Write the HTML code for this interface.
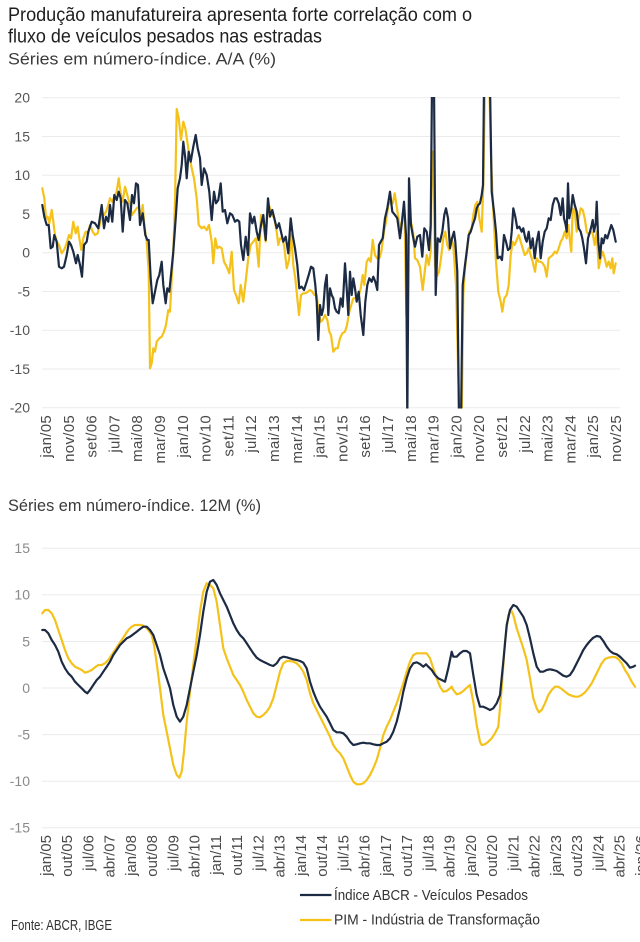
<!DOCTYPE html>
<html><head><meta charset="utf-8"><style>
html,body{margin:0;padding:0;background:#fff;}
svg{display:block;}
text{font-family:"Liberation Sans",sans-serif;}
</style></head><body>
<svg width="640" height="942" viewBox="0 0 640 942" xmlns="http://www.w3.org/2000/svg">
<rect width="640" height="942" fill="#fff"/>
<defs>
<clipPath id="ct"><rect x="38" y="97" width="586" height="311.5"/></clipPath>
</defs>
<!-- titles -->
<text x="8" y="21" font-size="19" fill="#1e1e1e" textLength="464" lengthAdjust="spacingAndGlyphs">Produção manufatureira apresenta forte correlação com o</text>
<text x="8" y="42.5" font-size="19" fill="#1e1e1e" textLength="314" lengthAdjust="spacingAndGlyphs">fluxo de veículos pesados nas estradas</text>
<text x="8" y="64.5" font-size="17" fill="#3a3a3a" textLength="268" lengthAdjust="spacingAndGlyphs">Séries em número-índice. A/A (%)</text>
<text x="8" y="511" font-size="17" fill="#3a3a3a" textLength="253" lengthAdjust="spacingAndGlyphs">Séries em número-índice. 12M (%)</text>

<!-- top grid -->
<g stroke="#ebebeb" stroke-width="1">
<line x1="42" y1="97.7" x2="620" y2="97.7"/><line x1="42" y1="136.5" x2="620" y2="136.5"/><line x1="42" y1="175.2" x2="620" y2="175.2"/><line x1="42" y1="214" x2="620" y2="214"/><line x1="42" y1="252.7" x2="620" y2="252.7"/><line x1="42" y1="291.5" x2="620" y2="291.5"/><line x1="42" y1="330.2" x2="620" y2="330.2"/><line x1="42" y1="369" x2="620" y2="369"/><line x1="42" y1="407.7" x2="620" y2="407.7"/>
</g>
<g font-size="14" fill="#555" text-anchor="end">
<text x="30" y="102.5">20</text><text x="30" y="141.3">15</text><text x="30" y="180">10</text><text x="30" y="218.8">5</text><text x="30" y="257.5">0</text><text x="30" y="296.3">-5</text><text x="30" y="335">-10</text><text x="30" y="373.8">-15</text><text x="30" y="412.5">-20</text>
</g>

<!-- bottom grid -->
<g stroke="#ebebeb" stroke-width="1">
<line x1="42" y1="548.3" x2="640" y2="548.3"/><line x1="42" y1="594.9" x2="640" y2="594.9"/><line x1="42" y1="641.5" x2="640" y2="641.5"/><line x1="42" y1="688" x2="640" y2="688"/><line x1="42" y1="734.6" x2="640" y2="734.6"/><line x1="42" y1="781.2" x2="640" y2="781.2"/><line x1="42" y1="827.7" x2="640" y2="827.7"/>
</g>
<g font-size="14" fill="#8a8a8a" text-anchor="end">
<text x="30" y="553.1">15</text><text x="30" y="599.7">10</text><text x="30" y="646.3">5</text><text x="30" y="692.8">0</text><text x="30" y="739.4">-5</text><text x="30" y="786">-10</text><text x="30" y="832.5">-15</text>
</g>

<!-- top series -->
<g clip-path="url(#ct)" fill="none" stroke-width="2.2" stroke-linejoin="round" stroke-linecap="round">
<polyline stroke="#f5c21b" points="42.3,188.3 44.3,198.3 46,218.3 47.7,216.7 49.3,223.3 51.7,210 53.3,221.7 55,235 56.7,241.7 59,245 61.7,253.3 64,250 66.7,243.3 69,235 71,238.3 73.3,221.7 75.7,233.3 77.7,226.7 79.3,238.3 81.3,250 83.3,238.3 85.7,231.7 88.3,233.3 90,225 92.7,231.7 95,235 97.7,233.3 100,223.3 101.7,213.3 104,215 106,211.7 108.3,205 110,198.3 112.3,201.7 114.3,196.7 116.7,191.7 118.7,178.3 120.7,193.3 122.7,201.7 125,186.7 127.3,195 130,205 132,215 134.3,211.7 136.7,208.3 138.7,206.7 140.7,216.7 142.7,205 144.3,225 146.7,241.7 148.7,271.7 150,368.3 151.7,363.3 153.3,348.3 155,351.7 156.7,341.7 159.3,338.3 161.7,336.7 164,331.7 166,325 168.3,310 170,311.7 171.7,278.3 173.3,251.7 175,201.7 176.7,109 178.7,118.3 181,140 183.3,121.7 185.3,128.3 187.3,141.7 189.3,155 191.7,168.3 194,178.3 196.7,198.3 198.7,225 201.7,228.3 204,226.7 206.7,230 209,225 211.7,241.7 213.3,263.3 215.3,238.3 217.3,248.3 219.3,246.7 221.7,248.3 224,261.7 226.7,266.7 229.3,273.3 231.7,251.7 234,290 236,295 238.7,303.3 240.7,285 243.3,301.7 246,278.3 248.3,258.3 250.7,245 253.3,241.7 256,238.3 258.7,266.7 261,215 263.3,225 265.7,241.7 268,203.3 270,208.3 272.3,215 274.3,218.3 276.7,231.7 278.3,245 280,238.3 282.3,238.3 284.3,246.7 286.7,268.3 289,260 291.3,235 293.3,265 295.3,278.3 297.3,298.3 299,315 301,295 303.3,293.3 305.3,293.3 307.7,291.7 310,290 312.3,291.7 314.3,295 316.7,295 318.7,313.3 320.7,321.7 322.7,320 325,315 327.3,320 329.3,331.7 331,335 333.3,351.7 335.7,348.3 337.7,348.3 340,338.3 342.3,333.3 345,331.7 347,325 349.3,311.7 351.3,305 353.3,298.3 355.7,298.3 358,298.3 360.7,288.3 362.7,275 364.3,285 366.7,261.7 368.7,258.3 370.7,261.7 372.7,240 375,255 377,258.3 379.3,258.3 381.3,251.7 384,231.7 386,221.7 388.3,205 390.7,201.7 392.7,203.3 394.7,193.3 396.7,206.7 399,221.7 401,230 402.7,213.3 404.7,218.3 406.3,315 408,245 409.3,218.3 410,220 411.7,225 413.3,233.3 415,258.3 417.3,260 420,266.7 422.7,290 424.7,271.7 426.7,255 428.7,265 430.7,251.7 432,151.7 433.3,151.7 435,265 436.7,276.7 439,271.7 441,258.3 443.3,238.3 445.3,231.7 447.3,245 449.3,250 451.3,238.3 453.3,245 456,285 457.7,351.7 459.3,420 461.7,420 463.3,295 465,268.3 467.3,248.3 469.3,231.7 471.7,228.3 473.3,215 475.3,205 477.3,201.7 479.3,218.3 481.7,231.7 483.3,185 485,85 489.3,85 491,158.3 493.3,211.7 496,261.7 498.3,291.7 500.7,301.7 502.3,311.7 504.3,298.3 506.7,295 508.7,285 510.7,255 512.7,241.7 514.7,245 516.7,240 518.7,235 520.7,241.7 522.7,248.3 524.7,255 526.7,253.3 528.7,248.3 530.7,255 532.7,261.7 535,271.7 536.7,258.3 538.7,261.7 540.7,261.7 542.7,263.3 544.7,266.7 546.7,276.7 548.7,258.3 550.7,256.7 552.7,255 554.7,251.7 556.7,253.3 558.7,248.3 560.7,241.7 562.7,238.3 564.7,231.7 566.7,238.3 568.3,225 570,241.7 571.3,251.7 572.7,208.3 574.7,211.7 576.7,231.7 578.7,218.3 580.7,208.3 582.7,210 584.7,218.3 586.7,231.7 588.7,235 590.7,231.7 592.7,233.3 594.7,245 596.7,231.7 598.7,268.3 600.7,258.3 602.7,251.7 604.7,258.3 606.7,266.7 608.7,261.7 610.7,268.3 612.3,258.3 613.7,273.3 615.7,263.3"/>
<polyline stroke="#1c2b43" points="42.3,205 44.3,216.7 46.7,225 48.7,225 50.7,248.3 52.7,246.7 54.3,235 56.7,241.7 59,266.7 61.7,268.3 64,266.7 66.7,255 69,241.7 71,245 73.3,251.7 76,263.3 77.7,255 80,265 82,276.7 84,245 86.7,241.7 88.3,231.7 91.7,221.7 95,223.3 98.3,228.3 101.7,205 104,228.3 106,216.7 108.3,221.7 110,205 112.3,221.7 114.3,195 116.7,200 118.7,191.7 120.7,198.3 122.7,231.7 125,200 127.3,203.3 130,220 132,195 134,203.3 136,183.3 138,185 140,225 142.7,213.3 145.3,235 147.3,240 148.7,240 150.7,278.3 152.7,303.3 155,291.7 157.3,280 159.3,275 161.7,261.7 163.3,285 165.7,303.3 167.3,288.3 169.3,291.7 171,275 173.3,251.7 175.7,218.3 177.7,188.3 180,178.3 181.7,165 183.3,141.7 185.3,158.3 186.7,178.3 188.7,151.7 190.7,161.7 193.3,146.7 195.7,135 197.7,148.3 200,158.3 201.7,185 204,168.3 206.7,175 209.3,191.7 211.7,220 214,191.7 216,203.3 218.3,200 220.7,183.3 222.7,211.7 225,210 227.3,223.3 230,213.3 232.3,215 235,221.7 237.3,220 239.3,221.7 241,245 243.3,260 245.7,236.7 248,255 250,213.3 252.3,223.3 254.3,216.7 256.7,231.7 258.7,240 261,225 263.3,215 265.7,240 268,198.3 270,216.7 272.3,210 274.3,218.3 276.7,228.3 279,223.3 281,231.7 283.3,241.7 285.7,236.7 288.3,253.3 290.7,218.3 292.7,235 295,248.3 297.3,265 299.3,288.3 301.7,286.7 304,290 306.7,281.7 308.7,275 311,266.7 313.3,268.3 315.3,285 316.7,301.7 318.3,340 320,305 321.7,315 323.3,308.3 325,285 326.7,275 328.3,315 330,288.3 331.7,295 333.3,298.3 335,308.3 336.7,311.7 338.7,313.3 340.7,298.3 342.7,306.7 345,263.3 346.7,288.3 348.3,315 350,271.7 351.7,295 353.3,278.3 355,288.3 356.7,301.7 358.7,291.7 360.7,315 363.3,335 365.3,301.7 367.3,285 369.3,278.3 371.7,281.7 373.3,276.7 375.3,281.7 377.3,290 379,245 380.7,241.7 382.7,238.3 385,218.3 387.3,208.3 390,191.7 392.3,211.7 395,215 397.3,218.3 400,238.3 402,221.7 404,201.7 406,235 407.3,420 409,178.3 411,225 412.7,235 415,246.7 417.3,236.7 420,235 422.3,256.7 424.3,228.3 426.7,231.7 429,250 430.7,225 432,85 434,85 435.7,295 437.7,238.3 440,241.7 442.3,231.7 444.3,215 446,208.3 448,218.3 450,248.3 452,238.3 454,231.7 455.3,241.7 457.3,271.7 459,420 461,420 462.7,285 465,265 466.7,251.7 468.7,235 470.7,231.7 472.7,225 475,218.3 476.7,208.3 478.3,205 480,203.3 481.7,195 483,185 484,85 490,85 491.7,191.7 494,211.7 496,231.7 497.7,258.3 500,256.7 502,260 504,235 506,241.7 508,250 510,248.3 511.7,231.7 513.3,208.3 515.3,216.7 517.3,228.3 519.3,226.7 521.7,231.7 523.3,228.3 525.3,238.3 526.7,241.7 528.7,231.7 530.7,248.3 532.7,238.3 534.7,258.3 536.7,241.7 538.7,231.7 540.7,258.3 542.7,241.7 544.7,231.7 546.7,228.3 548.7,218.3 550.7,220 552.7,205 554.7,198.3 556.7,198.3 558.7,203.3 560.7,215 562.7,198.3 564,218.3 565.7,225 566.7,231.7 568,183.3 569.3,218.3 571.3,208.3 572.7,195 574.7,205 576.7,211.7 578.7,228.3 580.7,231.7 582.3,238.3 584,248.3 586,263.3 588,238.3 590,231.7 591.7,225 592.7,220 594,231.7 595.7,223.3 596.7,201.7 598.3,241.7 600,258.3 601.7,238.3 603.3,243.3 605.3,235 607.3,238.3 609.3,231.7 611.3,225 613.3,230 615.7,241.7"/>
</g>

<!-- bottom series -->
<g fill="none" stroke-width="2.2" stroke-linejoin="round" stroke-linecap="round">
<polyline stroke="#f5c21b" points="42.3,613.3 45,610 48.3,610 51.7,613.3 55,620 58.3,630 61.7,640 65,650 68.3,658.3 71.7,663.3 75,666.7 78.3,668.3 81.7,670 85,672.7 88.3,671.7 91.7,670 95,667.3 98.3,665 101.7,665 105,663.3 108.3,660 111.7,655 115,650 118.3,645 121.7,640 125,635 128.3,630 131.7,626.7 135,625 138.3,625 141.7,625 145,626.7 148.3,630 151.7,635 154,645 156.7,663.3 160,688.3 163.3,715 166.7,731.7 170,748.3 173.3,765 176.7,775 179.3,777.7 181.7,771.7 184,751.7 186.7,721.7 190,691.7 193.3,665 196.7,638.3 200,611.7 203.3,591.7 206.7,583.3 210,585 213.3,588.3 216.7,601.7 220,625 223.3,648.3 226.7,658.3 230,666.7 233.3,675 236.7,680 240,685 243.3,691.7 246.7,700 250,706.7 253.3,713.3 256.7,716.7 260,717.3 263.3,715 266.7,711.7 270,706.7 273.3,698.3 276.7,685 280,671.7 283.3,663.3 286.7,661 290,661 293.3,661.7 296.7,663.3 300,666.7 303.3,671.7 306.7,680 310,693.3 313.3,703.3 316.7,710 320,716.7 323.3,723.3 326.7,730 330,736.7 333.3,745 336.7,750 340,753.3 343.3,758.3 346.7,766.7 350,775 353.3,781.7 356.7,784.3 360,784.3 363.3,783.3 366.7,780 370,775 373.3,768.3 376.7,760 380,748.3 383.3,735 386.7,726.7 390,720 393.3,711.7 396.7,703.3 400,693.3 403.3,683.3 406.7,671.7 410,661.7 413.3,655 416.7,653.3 420,653.3 423.3,653.3 426.7,653.3 430,658.3 433.3,668.3 436.7,678.3 440,686.7 443.3,691.7 446.7,691 450,688.3 451.7,686.7 453.3,690 456.7,694.3 460,693.3 463.3,691 466.7,687.7 470,685 473.3,701.7 476.7,725 480,741.7 481.7,745 485,744.3 488.3,741.7 491.7,738.3 495,733.3 498.3,726.7 501.7,688.3 505,641.7 508.3,615 511,610 513.3,615 516.7,628.3 520,638.3 523.3,648.3 526.7,660 530,678.3 533.3,698.3 536.7,708.3 539,712.3 541.7,710 545,703.3 548.3,695 551.7,690 555,686.7 558.3,686.7 561.7,689 565,691.7 568.3,694.3 571.7,695.7 575,696.7 578.3,696.7 581.7,695 585,692.3 588.3,688.3 591.7,683.3 595,676.7 598.3,670 601.7,663.3 605,659 608.3,657.7 611.7,657 615,657 618.3,659 621.7,663.3 625,670 628.3,675 631.7,681.7 635,686.7"/>
<polyline stroke="#1c2b43" points="42.3,630 45,630 48.3,633.3 51.7,640 55,645 58.3,651.7 61.7,661.7 65,668.3 68.3,673.3 71.7,676.7 75,681.7 78.3,685 81.7,688.3 85,691.7 87.3,693.3 90,690 93.3,685 96.7,680 100,676.7 103.3,671.7 106.7,666.7 110,661.7 113.3,655 116.7,650 120,645 123.3,641.7 126.7,638.3 130,636.7 133.3,634.3 136.7,631.7 140,629 143.3,626.7 146.7,626.7 150,630 153.3,635 156.7,645 160,655 163.3,668.3 166.7,678.3 170,688.3 173.3,705 176.7,716.7 180,721.7 183.3,716.7 186.7,705 190,688.3 193.3,671.7 196.7,655 200,635 203.3,611.7 206.7,591.7 210,581.7 213.3,580 216.7,585 220,593.3 223.3,600 226.7,606.7 230,615 233.3,623.3 236.7,630 240,635 243.3,638.3 246.7,643.3 250,648.3 253.3,653.3 256.7,657.7 260,660 263.3,661.7 266.7,663.3 270,665 273.3,666 276.7,663.3 280,658.3 283.3,656.7 286.7,657.3 290,658.3 293.3,659.3 296.7,660 300,661 303.3,662.7 306.7,668.3 310,681.7 313.3,691.7 316.7,700 320,706.7 323.3,711.7 326.7,716.7 330,723.3 333.3,730 336.7,732.3 340,732.3 343.3,733.3 346.7,736.7 350,741.7 353.3,745 356.7,744.3 360,743.3 363.3,742.7 366.7,743.3 370,743.3 373.3,744.3 376.7,745 380,745 383.3,743.3 386.7,741.7 390,738.3 393.3,731.7 396.7,721.7 400,708.3 403.3,691.7 406.7,678.3 410,668.3 413.3,663.3 416.7,662.3 420,664 423.3,666.7 426,664.3 428.3,666.7 431.7,670 435,675 438.3,678.3 441.7,680 445,681.7 448.3,668.3 451.7,651.7 453.3,656.7 456.7,656.7 460,653.3 463.3,651 466.7,651 470,653.3 473.3,675 476.7,695 480,706.7 483.3,706.7 486.7,708.3 490,710 493.3,708.3 496.7,703.3 500,695 503.3,661.7 506.7,625 510,610 513.3,605 516.7,606.7 520,611.7 523.3,616.7 526.7,625 530,638.3 533.3,653.3 536.7,666.7 540,671.7 543.3,671.7 546.7,670 550,669.3 553.3,670 556.7,671 560,673.3 563.3,675.7 566.7,676.7 570,675 573.3,670 576.7,663.3 580,656.7 583.3,650 586.7,645 590,641 593.3,637.7 596.7,636 600,636.7 603.3,641 606.7,646.7 610,651 613.3,653.3 616.7,654.3 620,656.7 623.3,660 626.7,663.3 630,667.7 633.3,666.7 635,665.7"/>
</g>

<!-- top x labels -->
<g font-size="15" fill="#4a4a4a" text-anchor="end" letter-spacing="0.3">
<text transform="translate(51,415) rotate(-90)">jan/05</text>
<text transform="translate(73.8,415) rotate(-90)">nov/05</text>
<text transform="translate(96.6,415) rotate(-90)">set/06</text>
<text transform="translate(119.4,415) rotate(-90)">jul/07</text>
<text transform="translate(142.2,415) rotate(-90)">mai/08</text>
<text transform="translate(165,415) rotate(-90)">mar/09</text>
<text transform="translate(187.8,415) rotate(-90)">jan/10</text>
<text transform="translate(210.6,415) rotate(-90)">nov/10</text>
<text transform="translate(233.4,415) rotate(-90)">set/11</text>
<text transform="translate(256.2,415) rotate(-90)">jul/12</text>
<text transform="translate(279,415) rotate(-90)">mai/13</text>
<text transform="translate(301.8,415) rotate(-90)">mar/14</text>
<text transform="translate(324.6,415) rotate(-90)">jan/15</text>
<text transform="translate(347.4,415) rotate(-90)">nov/15</text>
<text transform="translate(370.2,415) rotate(-90)">set/16</text>
<text transform="translate(393,415) rotate(-90)">jul/17</text>
<text transform="translate(415.8,415) rotate(-90)">mai/18</text>
<text transform="translate(438.6,415) rotate(-90)">mar/19</text>
<text transform="translate(461.4,415) rotate(-90)">jan/20</text>
<text transform="translate(484.2,415) rotate(-90)">nov/20</text>
<text transform="translate(507,415) rotate(-90)">set/21</text>
<text transform="translate(529.8,415) rotate(-90)">jul/22</text>
<text transform="translate(552.6,415) rotate(-90)">mai/23</text>
<text transform="translate(575.4,415) rotate(-90)">mar/24</text>
<text transform="translate(598.2,415) rotate(-90)">jan/25</text>
<text transform="translate(621,415) rotate(-90)">nov/25</text>
</g>

<!-- bottom x labels -->
<g font-size="15" fill="#4a4a4a" text-anchor="end">
<text transform="translate(50.8,835) rotate(-90)">jan/05</text>
<text transform="translate(72.05,835) rotate(-90)">out/05</text>
<text transform="translate(93.3,835) rotate(-90)">jul/06</text>
<text transform="translate(114.55,835) rotate(-90)">abr/07</text>
<text transform="translate(135.8,835) rotate(-90)">jan/08</text>
<text transform="translate(157.05,835) rotate(-90)">out/08</text>
<text transform="translate(178.3,835) rotate(-90)">jul/09</text>
<text transform="translate(199.55,835) rotate(-90)">abr/10</text>
<text transform="translate(220.8,835) rotate(-90)">jan/11</text>
<text transform="translate(242.05,835) rotate(-90)">out/11</text>
<text transform="translate(263.3,835) rotate(-90)">jul/12</text>
<text transform="translate(284.55,835) rotate(-90)">abr/13</text>
<text transform="translate(305.8,835) rotate(-90)">jan/14</text>
<text transform="translate(327.05,835) rotate(-90)">out/14</text>
<text transform="translate(348.3,835) rotate(-90)">jul/15</text>
<text transform="translate(369.55,835) rotate(-90)">abr/16</text>
<text transform="translate(390.8,835) rotate(-90)">jan/17</text>
<text transform="translate(412.05,835) rotate(-90)">out/17</text>
<text transform="translate(433.3,835) rotate(-90)">jul/18</text>
<text transform="translate(454.55,835) rotate(-90)">abr/19</text>
<text transform="translate(475.8,835) rotate(-90)">jan/20</text>
<text transform="translate(497.05,835) rotate(-90)">out/20</text>
<text transform="translate(518.3,835) rotate(-90)">jul/21</text>
<text transform="translate(539.55,835) rotate(-90)">abr/22</text>
<text transform="translate(560.8,835) rotate(-90)">jan/23</text>
<text transform="translate(582.05,835) rotate(-90)">out/23</text>
<text transform="translate(603.3,835) rotate(-90)">jul/24</text>
<text transform="translate(624.55,835) rotate(-90)">abr/25</text>
<text transform="translate(645.8,835) rotate(-90)">jan/26</text>
</g>

<!-- legend -->
<line x1="300" y1="895" x2="331.5" y2="895" stroke="#1c2b43" stroke-width="2.2"/>
<text x="334" y="900" font-size="15" fill="#333" textLength="194" lengthAdjust="spacingAndGlyphs">Índice ABCR - Veículos Pesados</text>
<line x1="300" y1="920" x2="331.5" y2="920" stroke="#f5c21b" stroke-width="2.2"/>
<text x="334" y="924.5" font-size="15" fill="#333" textLength="206" lengthAdjust="spacingAndGlyphs">PIM - Indústria de Transformação</text>
<text x="11" y="930" font-size="14.5" fill="#333" textLength="101" lengthAdjust="spacingAndGlyphs">Fonte: ABCR, IBGE</text>
</svg>
</body></html>
